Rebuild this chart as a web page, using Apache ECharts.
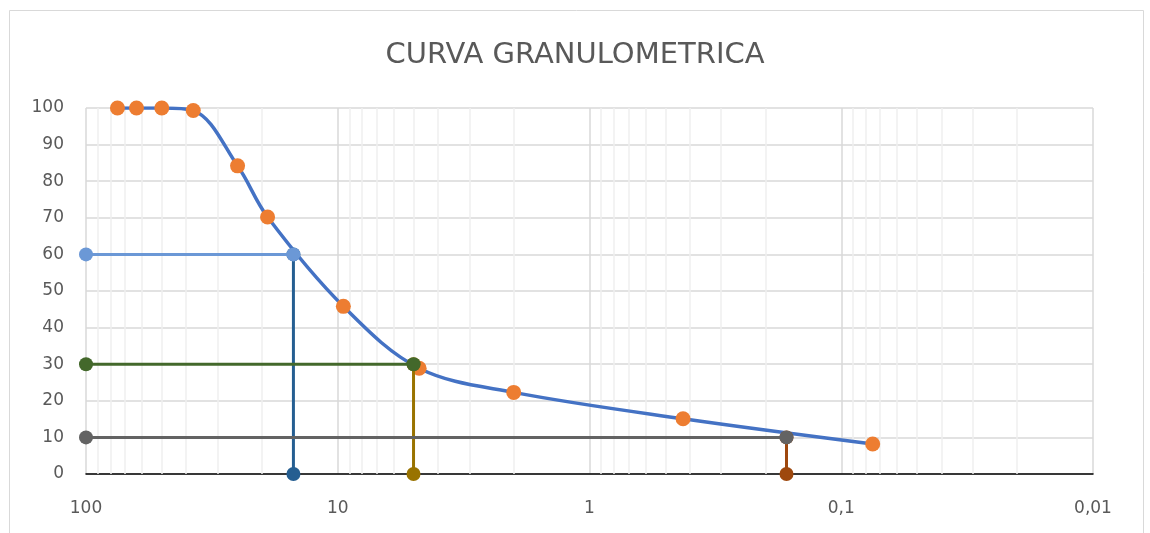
<!DOCTYPE html>
<html>
<head>
<meta charset="utf-8">
<script src="https://cdn.jsdelivr.net/npm/echarts@6/dist/echarts.min.js"></script>
<style>html,body{margin:0;padding:0;background:#fff;}#c{width:1150px;height:533px;}</style>
</head>
<body>
<div id="c"></div>
<script>
// Sieve sizes (mm) and percent passing
var sizes = [75, 63, 50, 37.5, 25, 19, 9.5, 4.75, 2, 0.425, 0.075];
var passing = [100, 100, 100, 99.3, 84.2, 70.2, 45.8, 28.9, 22.3, 15.1, 8.2];
// Characteristic diameters
var d60 = 15.0, d30 = 5.0, d10 = 0.165;
var xMin = 0.01, xMax = 100;
var minorMults = [2, 3, 4, 5, 6, 7, 8, 9];
var decades = [0.01, 0.1, 1, 10];

var minorLines = [];
decades.forEach(function (d) {
  minorMults.forEach(function (m) { minorLines.push({ xAxis: +(d * m).toPrecision(6) }); });
});

var curveData = sizes.map(function (s, i) { return [s, passing[i]]; });
var font = "'DejaVu Sans', 'Open Sans', sans-serif";

function refLine(name, data, color, z) {
  return {
    name: name, type: 'line', data: data, z: z,
    symbol: 'circle', symbolSize: 14, showSymbol: true,
    lineStyle: { color: color, width: 3 },
    itemStyle: { color: color },
    animation: false, silent: true
  };
}

var chart = echarts.init(document.getElementById('c'), null, { renderer: 'canvas' });
chart.setOption({
  animation: false,
  backgroundColor: '#fff',
  title: {
    text: 'CURVA GRANULOMETRICA', left: 'center', top: 36,
    textStyle: { fontFamily: font, fontSize: 29, fontWeight: 'normal', color: '#595959' }
  },
  graphic: [{
    type: 'rect', shape: { x: 9.5, y: 10.5, width: 1134, height: 560 },
    style: { fill: 'none', stroke: '#d9d9d9', lineWidth: 1 }, silent: true, z: -10
  }],
  grid: { left: 86, right: 57, top: 108, bottom: 59 },
  xAxis: {
    type: 'log', logBase: 10, min: xMin, max: xMax, inverse: true,
    axisLine: { show: true, onZero: false, lineStyle: { color: '#000', width: 1.5 } },
    axisTick: { show: false },
    axisLabel: {
      fontFamily: font, fontSize: 17, color: '#595959', margin: 26,
      formatter: function (v) { return String(+(+v).toPrecision(6)).replace('.', ','); }
    },
    splitLine: { show: true, lineStyle: { color: '#d9d9d9', width: 1.5 } }
  },
  yAxis: {
    type: 'value', min: 0, max: 100, interval: 10,
    axisLine: { show: false }, axisTick: { show: false },
    axisLabel: { fontFamily: font, fontSize: 17, color: '#595959', margin: 22, padding: [4, 0, 0, 0] },
    splitLine: { show: true, lineStyle: { color: '#d9d9d9', width: 1.5 } }
  },
  series: [
    {
      name: 'minor', type: 'line', data: [], z: 1, silent: true,
      markLine: {
        z: 1, silent: true, symbol: 'none', label: { show: false }, animation: false,
        lineStyle: { color: '#efefef', width: 1.5, type: 'solid' },
        data: minorLines
      }
    },
    {
      name: 'curva', type: 'line', data: curveData, z: 3,
      smooth: 0.35, symbol: 'circle', symbolSize: 15, showSymbol: true,
      lineStyle: { color: '#4472C4', width: 3.5 },
      itemStyle: { color: '#ED7D31' }
    },
    refLine('d60v', [[d60, 60], [d60, 0]], '#255E91', 4),
    refLine('d60h', [[xMax, 60], [d60, 60]], '#6B98D6', 5),
    refLine('d30v', [[d30, 30], [d30, 0]], '#997300', 4),
    refLine('d30h', [[xMax, 30], [d30, 30]], '#43682B', 5),
    refLine('d10v', [[d10, 10], [d10, 0]], '#9E480E', 4),
    refLine('d10h', [[xMax, 10], [d10, 10]], '#636363', 5)
  ]
});
</script>
</body>
</html>
